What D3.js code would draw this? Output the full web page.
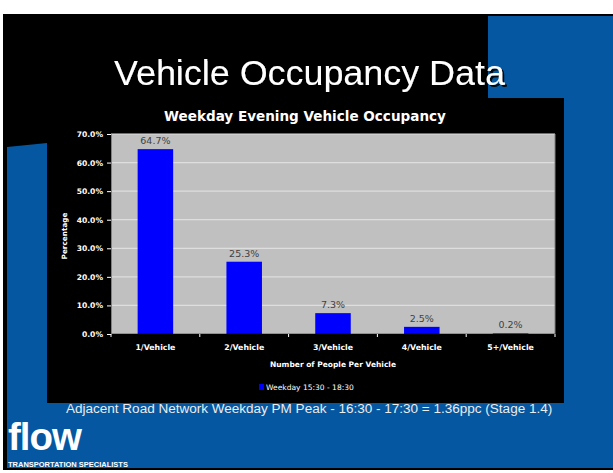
<!DOCTYPE html>
<html><head><meta charset="utf-8">
<script src="https://cdn.jsdelivr.net/npm/d3@7"></script>
<style>html,body{margin:0;padding:0;background:#fff;}svg{display:block;}</style>
</head><body>
<script>
const categories = ["1/Vehicle","2/Vehicle","3/Vehicle","4/Vehicle","5+/Vehicle"];
const values = [64.7, 25.3, 7.3, 2.5, 0.2];
const yTicks = [0,10,20,30,40,50,60,70];
const seriesName = "Weekday 15:30 - 18:30";
const slideTitle = "Vehicle Occupancy Data";
const chartTitle = "Weekday Evening Vehicle Occupancy";
const xTitle = "Number of People Per Vehicle";
const yTitle = "Percentage";
const footer = "Adjacent Road Network Weekday PM Peak - 16:30 - 17:30 = 1.36ppc (Stage 1.4)";

(function(){
const W = 613, H = 473;
const BLUE = "#0457a0";
const svg = d3.select("body").append("svg").attr("width", W).attr("height", H);

function fit(sel, w){ const l = sel.node().getComputedTextLength(); if(l>0){ const fs = parseFloat(sel.attr("font-size")); sel.attr("font-size", fs*w/l);} return sel; }

const defs = svg.append("defs");
defs.append("filter").attr("id","shadow").attr("x","-5%").attr("y","-20%").attr("width","110%").attr("height","150%")
  .append("feDropShadow").attr("dx",2).attr("dy",2).attr("stdDeviation",0.4)
  .attr("flood-color","#000").attr("flood-opacity",0.9);

// slide background
svg.append("rect").attr("x",0).attr("y",0).attr("width",W).attr("height",H).attr("fill","#fff");
svg.append("rect").attr("x",3).attr("y",14).attr("width",610).attr("height",456).attr("fill","#000");
svg.append("rect").attr("x",488).attr("y",16).attr("width",125).attr("height",452).attr("fill",BLUE);
svg.append("path").attr("d","M7,147 L47,143 L47,468 L7,468 Z").attr("fill",BLUE);
svg.append("rect").attr("x",7).attr("y",403).attr("width",606).attr("height",65).attr("fill",BLUE);
// chart box
svg.append("rect").attr("x",47).attr("y",98).attr("width",517).attr("height",305).attr("fill","#000");

// slide title with shadow
const tt = svg.append("text").attr("x",114).attr("y",85).attr("font-family","Liberation Sans, Arial, sans-serif")
  .attr("font-size",37).attr("fill","#fff").attr("filter","url(#shadow)").text(slideTitle);
fit(tt,391);

// chart
const pLeft=111, pRight=555, pTop=134, pBottom=334;
const x = d3.scaleBand().domain(categories).range([pLeft,pRight]).paddingInner(0.6).paddingOuter(0.3);
const y = d3.scaleLinear().domain([0,70]).range([pBottom,pTop]);

svg.append("rect").attr("x",pLeft).attr("y",pTop).attr("width",pRight-pLeft).attr("height",pBottom-pTop).attr("fill","#c0c0c0");
svg.append("g").selectAll("line").data(yTicks.slice(1)).join("line")
  .attr("x1",pLeft).attr("x2",pRight).attr("y1",d=>y(d)).attr("y2",d=>y(d))
  .attr("stroke","#dedede").attr("stroke-width",1.2);
svg.append("line").attr("x1",pRight).attr("x2",pRight).attr("y1",pTop).attr("y2",pBottom).attr("stroke","#808080");

// bars
svg.append("g").selectAll("rect").data(values).join("rect")
  .attr("x",(d,i)=>x(categories[i])).attr("width",x.bandwidth())
  .attr("y",d=>y(d)).attr("height",d=>Math.max(0.8,pBottom-y(d))).attr("fill","#0000ff");
svg.append("g").selectAll("text").data(values).join("text")
  .attr("x",(d,i)=>x(categories[i])+x.bandwidth()/2).attr("y",d=>y(d)-5)
  .attr("text-anchor","middle").attr("font-family","DejaVu Sans, Verdana, sans-serif")
  .attr("font-size",9.5).attr("fill","#404040").text(d=>d.toFixed(1)+"%");

// y axis
const yAxis = svg.append("g").attr("transform",`translate(${pLeft},0)`)
  .call(d3.axisLeft(y).tickValues(yTicks).tickSize(4).tickPadding(4).tickFormat(d=>d.toFixed(1)+"%"));
yAxis.select(".domain").attr("stroke","#808080");
yAxis.selectAll(".tick line").attr("stroke","#ffffff");
yAxis.selectAll("text").attr("fill","#fff").attr("font-family","DejaVu Sans, Verdana, sans-serif")
  .attr("font-weight","bold").attr("font-size",7.6);

// x axis
const xAxis = svg.append("g").attr("transform",`translate(0,${pBottom})`)
  .call(d3.axisBottom(x).tickSize(0).tickPadding(10));
xAxis.select(".domain").attr("stroke","#000").attr("stroke-width",1.5);
xAxis.selectAll("text").attr("fill","#fff").attr("font-family","DejaVu Sans, Verdana, sans-serif")
  .attr("font-weight","bold").attr("font-size",7.8);
const gap = x.step() - x.bandwidth();
const bx = i => i<categories.length ? x(categories[i]) - gap/2 : x(categories[i-1])+x.bandwidth()+gap/2;
svg.append("g").selectAll("line").data(d3.range(categories.length+1)).join("line")
  .attr("x1",bx).attr("x2",bx)
  .attr("y1",pBottom).attr("y2",pBottom+3).attr("stroke","#fff");

// titles
const ct = svg.append("text").attr("x",305).attr("y",121).attr("text-anchor","middle")
  .attr("font-family","DejaVu Sans, Verdana, sans-serif").attr("font-weight","bold")
  .attr("font-size",13).attr("fill","#fff").text(chartTitle);
fit(ct,282);
const xt = svg.append("text").attr("x",333).attr("y",367).attr("text-anchor","middle")
  .attr("font-family","DejaVu Sans, Verdana, sans-serif").attr("font-weight","bold")
  .attr("font-size",7.5).attr("fill","#fff").text(xTitle);
fit(xt,126);
const yt = svg.append("text").attr("transform","translate(67,236) rotate(-90)").attr("text-anchor","middle")
  .attr("font-family","DejaVu Sans, Verdana, sans-serif").attr("font-weight","bold")
  .attr("font-size",7.5).attr("fill","#fff").text(yTitle);
fit(yt,47);

// legend
svg.append("rect").attr("x",259).attr("y",384).attr("width",5).attr("height",6).attr("fill","#0000ff");
const lt = svg.append("text").attr("x",266).attr("y",390).attr("font-family","DejaVu Sans, Verdana, sans-serif")
  .attr("font-size",8).attr("fill","#fff").text(seriesName);
fit(lt,88);

// footer
const ft = svg.append("text").attr("x",66).attr("y",413).attr("font-family","Liberation Sans, Arial, sans-serif")
  .attr("font-size",13).attr("fill","#ececec").text(footer);
fit(ft,487);

// logo
const lg = svg.append("text").attr("x",8).attr("y",450).attr("font-family","Liberation Sans, Arial, sans-serif")
  .attr("font-weight","bold").attr("font-size",31).attr("fill","#fff").attr("letter-spacing",-1).text("flow");
fit(lg,72);
const ls = svg.append("text").attr("x",8).attr("y",466.5).attr("font-family","Liberation Sans, Arial, sans-serif")
  .attr("font-weight","bold").attr("font-size",6.5).attr("fill","#fff").text("TRANSPORTATION SPECIALISTS");
fit(ls,120);
})();
</script>
</body></html>
